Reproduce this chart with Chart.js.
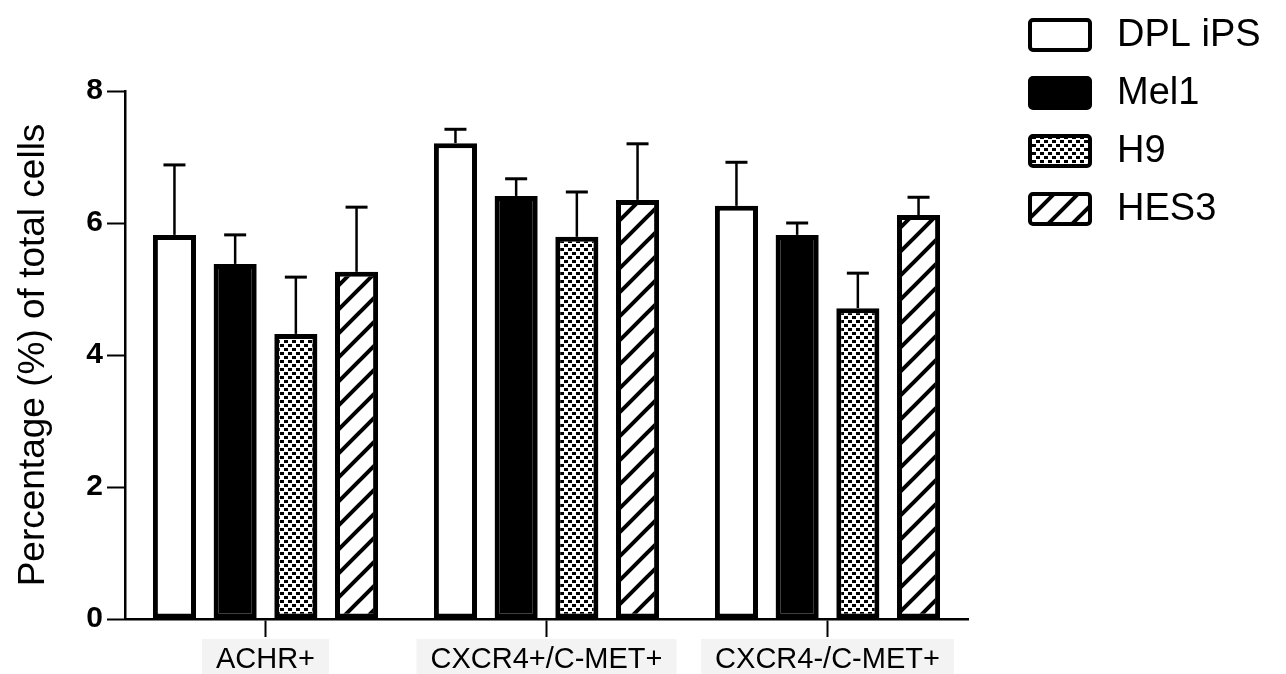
<!DOCTYPE html>
<html>
<head>
<meta charset="utf-8">
<script src="https://cdn.jsdelivr.net/npm/chart.js@4.4.1/dist/chart.umd.min.js"></script>
<style>
  body { margin: 0; background: #fff; }
  #wrap { position: relative; width: 1286px; height: 674px; }
</style>
</head>
<body>
<div id="wrap"><canvas id="barChart" width="1286" height="674"></canvas></div>
<script>
// categories and series (mean + upper error)
const groups = ['ACHR+', 'CXCR4+/C-MET+', 'CXCR4-/C-MET+'];
const seriesNames = ['DPL iPS', 'Mel1', 'H9', 'HES3'];
const dplMean = [5.82, 7.21, 6.26];
const dplErr = [1.06, 0.21, 0.66];
const mel1Mean = [5.38, 6.41, 5.82];
const mel1Err = [0.44, 0.26, 0.18];
const h9Mean = [4.32, 5.79, 4.71];
const h9Err = [0.86, 0.68, 0.53];
const hes3Mean = [5.26, 6.35, 6.12];
const hes3Err = [0.98, 0.85, 0.27];
const yTicks = [0, 2, 4, 6, 8];

// fill patterns
const makePattern = (size, draw) => {
  const c = document.createElement('canvas');
  c.width = size; c.height = size;
  const g = c.getContext('2d');
  g.fillStyle = '#fff';
  g.fillRect(0, 0, size, size);
  draw(g, size);
  return document.getElementById('barChart').getContext('2d').createPattern(c, 'repeat');
};

const checker = makePattern(8, (g) => {
  g.fillStyle = '#000';
  g.fillRect(0, 0, 4, 3);
  g.fillRect(4, 4, 4, 3);
});

const hatch = makePattern(24, (g, s) => {
  g.strokeStyle = '#000';
  g.lineWidth = 4;
  g.beginPath();
  g.moveTo(-4, s + 4); g.lineTo(s + 4, -4);
  g.moveTo(-4, 4); g.lineTo(4, -4);
  g.moveTo(s - 4, s + 4); g.lineTo(s + 4, s - 4);
  g.stroke();
});

const fills = ['#ffffff', '#000000', checker, hatch];
const means = [dplMean, mel1Mean, h9Mean, hes3Mean];
const errs = [dplErr, mel1Err, h9Err, hes3Err];

const errorBars = {
  id: 'errorBars',
  afterDatasetsDraw(chart) {
    const ctx = chart.ctx;
    const y = chart.scales.y;
    ctx.save();
    ctx.strokeStyle = '#000';
    chart.data.datasets.forEach((ds, i) => {
      const meta = chart.getDatasetMeta(i);
      meta.data.forEach((bar, j) => {
        const top = y.getPixelForValue(ds.data[j] + ds.errors[j]);
        ctx.lineWidth = 2.5;
        ctx.beginPath();
        ctx.moveTo(bar.x, bar.y);
        ctx.lineTo(bar.x, top);
        ctx.stroke();
        ctx.lineWidth = 3;
        ctx.beginPath();
        ctx.moveTo(bar.x - 11, top);
        ctx.lineTo(bar.x + 11, top);
        ctx.stroke();
      });
    });
    ctx.restore();
  }
};

const sideLegend = {
  id: 'sideLegend',
  afterDraw(chart) {
    const ctx = chart.ctx;
    ctx.save();
    chart.data.datasets.forEach((ds, i) => {
      const cy = 35 + i * 58;
      ctx.fillStyle = ds.backgroundColor;
      ctx.beginPath();
      ctx.roundRect(1030, cy - 15, 60, 30, 3);
      ctx.fill();
      ctx.lineWidth = 4;
      ctx.strokeStyle = '#000';
      ctx.stroke();
      ctx.fillStyle = '#000';
      ctx.font = '38px Arial, "Liberation Sans", sans-serif';
      ctx.textBaseline = 'middle';
      ctx.fillText(ds.label, 1117, cy + 1);
    });
    ctx.restore();
  }
};

new Chart(document.getElementById('barChart'), {
  type: 'bar',
  data: {
    labels: groups,
    datasets: seriesNames.map((name, i) => ({
      label: name,
      data: means[i],
      errors: errs[i],
      backgroundColor: fills[i],
      borderColor: '#000',
      borderWidth: 5,
      borderSkipped: false,
      categoryPercentage: 0.864,
      barPercentage: 0.71,
    })),
  },
  options: {
    responsive: false,
    animation: false,
    devicePixelRatio: 1,
    layout: { padding: { top: 91, right: 318, bottom: 0, left: 0 } },
    scales: {
      x: {
        type: 'category',
        afterFit: (s) => { s.height = 55; },
        grid: {
          offset: false,
          drawOnChartArea: false,
          drawTicks: true,
          tickLength: 18,
          tickWidth: 2,
          tickColor: '#000',
        },
        border: { display: true, color: '#000', width: 2.5 },
        ticks: {
          color: '#000',
          padding: 6,
          font: { family: 'Arial, "Liberation Sans", sans-serif', size: 29 },
          showLabelBackdrop: true,
          backdropColor: '#f3f3f3',
          backdropPadding: { x: 14, y: 4 },
        },
      },
      y: {
        min: 0,
        max: 8,
        afterFit: (s) => { s.width = 125; },
        afterBuildTicks: (s) => { s.ticks = yTicks.map(v => ({ value: v })); },
        grid: {
          drawOnChartArea: false,
          drawTicks: true,
          tickLength: 18,
          tickWidth: 2,
          tickColor: '#000',
        },
        border: { display: true, color: '#000', width: 2.5 },
        ticks: {
          color: '#000',
          padding: 4,
          font: { family: 'Arial, "Liberation Sans", sans-serif', size: 30, weight: 'bold' },
        },
        title: {
          display: true,
          text: 'Percentage (%) of total cells',
          color: '#000',
          padding: { top: 12, bottom: 0 },
          font: { family: 'Arial, "Liberation Sans", sans-serif', size: 37 },
        },
      },
    },
    plugins: {
      legend: { display: false },
      tooltip: { enabled: false },
    },
  },
  plugins: [errorBars, sideLegend],
});
</script>
</body>
</html>
